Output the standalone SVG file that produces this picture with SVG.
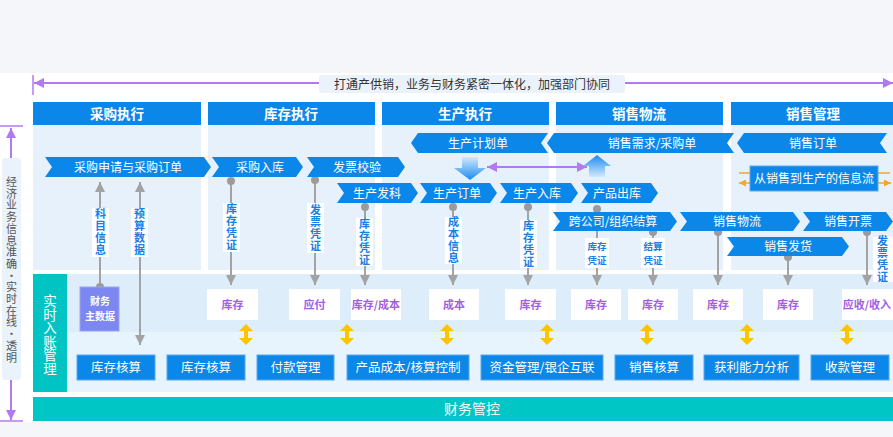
<svg xmlns="http://www.w3.org/2000/svg" xmlns:xlink="http://www.w3.org/1999/xlink" width="893" height="437" viewBox="0 0 893 437">
<defs>
<style>
text{font-family:"Noto Sans CJK SC","Noto Sans",sans-serif;}
.vt{writing-mode:vertical-rl;text-anchor:middle;}
.hdr{fill:#0b87ea;}
.hdrt{fill:#fff;font-size:13.5px;font-weight:bold;text-anchor:middle;}
.body{fill:#e7f1fc;}
.chev{fill:#0b87ea;}
.chevt{fill:#fff;font-size:12px;text-anchor:middle;}
.wbox{fill:#fff;}
.wt{fill:#a35ee6;font-size:11px;font-weight:bold;text-anchor:middle;}
.lbl{fill:#fff;}
.lt{fill:#1780e2;font-size:11px;font-weight:bold;letter-spacing:1px;}
.lt2{fill:#1780e2;font-size:9.5px;font-weight:bold;text-anchor:middle;}
.bbox{fill:#0b87ea;stroke:#5aa8ee;stroke-width:1;}
.bt{fill:#fff;font-size:12.5px;text-anchor:middle;}
.conn{stroke:#a3a3a3;stroke-width:2;fill:none;}
.dot{fill:#9b9b9b;}
.purp{stroke:#b27af0;stroke-width:2;fill:none;}
.orng{stroke:#f5a623;stroke-width:1.5;fill:none;}
</style>
<marker id="ga" viewBox="0 0 10 10" refX="10" refY="5" markerWidth="11" markerHeight="10" markerUnits="userSpaceOnUse" orient="auto-start-reverse"><path d="M0 0 L10 5 L0 10 Z" fill="#a3a3a3"/></marker>
<marker id="pa" viewBox="0 0 10 10" refX="10" refY="5" markerWidth="10" markerHeight="10" markerUnits="userSpaceOnUse" orient="auto-start-reverse"><path d="M0 0 L10 5 L0 10 Z" fill="#b27af0"/></marker>
<marker id="oa" viewBox="0 0 10 10" refX="10" refY="5" markerWidth="7" markerHeight="7" markerUnits="userSpaceOnUse" orient="auto-start-reverse"><path d="M0 0 L10 5 L0 10 Z" fill="#f5a623"/></marker>
<linearGradient id="gdown" x1="0" y1="0" x2="0" y2="1"><stop offset="0" stop-color="#d2e8fc"/><stop offset="1" stop-color="#1a8cf0"/></linearGradient>
<linearGradient id="gup" x1="0" y1="0" x2="0" y2="1"><stop offset="0" stop-color="#1a8cf0"/><stop offset="1" stop-color="#d2e8fc"/></linearGradient>
<path id="ydbl" d="M0 0 L7 7 L2 7 L2 14 L7 14 L0 21 L-7 14 L-2 14 L-2 7 L-7 7 Z" fill="#ffc300"/>
</defs>

<!-- backgrounds -->
<rect x="0" y="0" width="893" height="437" fill="#ffffff"/>
<rect x="0" y="0" width="893" height="73" fill="#f4f6fa"/>
<rect x="0" y="422" width="893" height="15" fill="#f4f6fa"/>

<!-- top banner -->
<g id="banner">
<line x1="33" y1="75" x2="33" y2="95" stroke="#b27af0" stroke-width="1.5"/>
<line x1="34" y1="83" x2="319" y2="83" class="purp" marker-start="url(#pa)"/>
<line x1="625" y1="83" x2="893" y2="83" class="purp" marker-end="url(#pa)"/>
<rect x="319" y="75" width="306" height="18" rx="3" fill="#eaf2fc"/>
<text x="472" y="88.5" font-size="12" fill="#333" text-anchor="middle">打通产供销，业务与财务紧密一体化，加强部门协同</text>
</g>

<!-- left side label -->
<g id="side-label">
<line x1="0" y1="126" x2="23" y2="126" stroke="#b27af0" stroke-width="1.5"/>
<line x1="11" y1="158" x2="11" y2="128" class="purp" marker-end="url(#pa)"/>
<line x1="11" y1="380" x2="11" y2="420" class="purp" marker-end="url(#pa)"/>
<line x1="0" y1="421" x2="23" y2="421" stroke="#b27af0" stroke-width="1.5"/>
<rect x="2" y="158" width="19" height="222" rx="3" fill="#eaf2fb"/>
<text class="vt" x="11.5" y="270" font-size="11" fill="#555" letter-spacing="0.7">经济业务信息准确・实时在线・透明</text>
</g>

<!-- column headers and bodies -->
<g id="col-purchase"><rect class="body" x="33" y="125" width="168" height="145"/><rect class="hdr" x="33" y="102" width="168" height="23"/><text class="hdrt" x="117" y="118.5">采购执行</text></g>
<g id="col-inventory"><rect class="body" x="208" y="125" width="167" height="145"/><rect class="hdr" x="208" y="102" width="167" height="23"/><text class="hdrt" x="291" y="118.5">库存执行</text></g>
<g id="col-production"><rect class="body" x="382" y="125" width="167" height="145"/><rect class="hdr" x="382" y="102" width="167" height="23"/><text class="hdrt" x="465" y="118.5">生产执行</text></g>
<g id="col-logistics"><rect class="body" x="556" y="125" width="167" height="145"/><rect class="hdr" x="556" y="102" width="167" height="23"/><text class="hdrt" x="639" y="118.5">销售物流</text></g>
<g id="col-sales"><rect class="body" x="731" y="125" width="162" height="145"/><rect class="hdr" x="731" y="102" width="162" height="23"/><text class="hdrt" x="813" y="118.5">销售管理</text></g>

<!-- lower panel -->
<g id="lower-panel">
<rect x="33" y="274" width="860" height="118" fill="#e8f4fd"/>
<rect x="67" y="274" width="826" height="58" fill="#ddedfa"/>
</g>
<g id="realtime">
<rect x="33" y="274" width="34" height="118" fill="#00c4c4"/>
<text class="vt" x="50" y="335" font-size="13.5" fill="#fff">实时入账管理</text>
</g>
<g id="finance-control">
<rect x="33" y="397" width="860" height="24" fill="#00c6c6"/>
<text x="472" y="414" font-size="14" fill="#fff" text-anchor="middle">财务管控</text>
</g>

<!-- connectors -->
<g id="connectors">
<line class="conn" x1="100" y1="287" x2="100" y2="182" marker-end="url(#ga)"/>
<line class="conn" x1="140" y1="182" x2="140" y2="345" marker-start="url(#ga)" marker-end="url(#ga)"/>
<line class="conn" x1="231" y1="181" x2="231" y2="285" marker-end="url(#ga)"/>
<line class="conn" x1="315" y1="180" x2="315" y2="285" marker-end="url(#ga)"/>
<line class="conn" x1="365" y1="207" x2="365" y2="285" marker-end="url(#ga)"/>
<line class="conn" x1="453" y1="207" x2="453" y2="285" marker-end="url(#ga)"/>
<line class="conn" x1="528" y1="207" x2="528" y2="285" marker-end="url(#ga)"/>
<line class="conn" x1="597" y1="209" x2="597" y2="285" marker-end="url(#ga)"/>
<line class="conn" x1="653" y1="232" x2="653" y2="285" marker-end="url(#ga)"/>
<line class="conn" x1="718" y1="232" x2="718" y2="285" marker-end="url(#ga)"/>
<line class="conn" x1="788" y1="257" x2="788" y2="285" marker-end="url(#ga)"/>
<line class="conn" x1="867" y1="232" x2="867" y2="285" marker-end="url(#ga)"/>
<circle class="dot" cx="100" cy="287" r="4"/>
<circle class="dot" cx="231" cy="181" r="4"/>
<circle class="dot" cx="315" cy="180" r="4"/>
<circle class="dot" cx="365" cy="207" r="4"/>
<circle class="dot" cx="453" cy="207" r="4"/>
<circle class="dot" cx="528" cy="207" r="4"/>
<circle class="dot" cx="597" cy="209" r="4"/>
<circle class="dot" cx="653" cy="232" r="4"/>
<circle class="dot" cx="718" cy="232" r="4"/>
<circle class="dot" cx="788" cy="257" r="4"/>
<circle class="dot" cx="867" cy="232" r="4"/>
<!-- labels -->
<rect class="lbl" x="92" y="208" width="17" height="49"/>
<text class="lt vt" x="100.5" y="232.5">科目信息</text>
<rect class="lbl" x="131" y="208" width="17" height="49"/>
<text class="lt vt" x="139.5" y="232.5">预算数据</text>
<rect class="lbl" x="223" y="203" width="17" height="49"/>
<text class="lt vt" x="231.5" y="227.5">库存凭证</text>
<rect class="lbl" x="307" y="203" width="17" height="50"/>
<text class="lt vt" x="315.5" y="228">发票凭证</text>
<rect class="lbl" x="356" y="218" width="17" height="48"/>
<text class="lt vt" x="364.5" y="242">库存凭证</text>
<rect class="lbl" x="445" y="217" width="17" height="47"/>
<text class="lt vt" x="453.5" y="240.5">成本信息</text>
<rect class="lbl" x="520" y="220" width="17" height="48"/>
<text class="lt vt" x="528.5" y="244">库存凭证</text>
<rect class="lbl" x="585" y="238" width="24" height="30"/>
<text class="lt2" x="597" y="250">库存</text>
<text class="lt2" x="597" y="264">凭证</text>
<rect class="lbl" x="641" y="238" width="24" height="30"/>
<text class="lt2" x="653" y="250">结算</text>
<text class="lt2" x="653" y="264">凭证</text>
<rect class="lbl" x="873" y="237" width="20" height="45"/>
<text class="lt vt" x="882.5" y="259.5" letter-spacing="0">发票凭证</text>
<!-- production / sales links -->
<line class="purp" x1="487" y1="167" x2="587" y2="167" marker-start="url(#pa)" marker-end="url(#pa)"/>
<line class="orng" x1="739" y1="173" x2="750" y2="173"/>
<line class="orng" x1="750" y1="183" x2="739" y2="183" marker-end="url(#oa)"/>
<line class="orng" x1="878" y1="173" x2="890" y2="173"/>
<line class="orng" x1="878" y1="183" x2="891" y2="183" marker-end="url(#oa)"/>
<path d="M462 157 L478 157 L478 168 L486 168 L470 180 L454 168 L462 168 Z" fill="url(#gdown)"/>
<path d="M597 155 L611 166 L605 166 L605 177 L589 177 L589 166 L583 166 Z" fill="url(#gup)"/>
<g>
<use href="#ydbl" x="246" y="324"/><use href="#ydbl" x="347" y="324"/><use href="#ydbl" x="447" y="324"/><use href="#ydbl" x="547" y="324"/><use href="#ydbl" x="647" y="324"/><use href="#ydbl" x="747" y="324"/><use href="#ydbl" x="847" y="324"/>
</g>
</g>

<!-- process chevrons -->
<g id="p-purchase-order"><path class="chev" d="M45 157 L204 157 L211 167 L204 177 L45 177 L52 167 Z"/><text class="chevt" x="128" y="171.5">采购申请与采购订单</text></g>
<g id="p-purchase-in"><path class="chev" d="M212 157 L296 157 L303 167 L296 177 L212 177 L219 167 Z"/><text class="chevt" x="260" y="171.5">采购入库</text></g>
<g id="p-invoice-check"><path class="chev" d="M307 157 L398 157 L405 167 L398 177 L307 177 L314 167 Z"/><text class="chevt" x="357" y="171.5">发票校验</text></g>

<g id="p-plan"><path class="chev" d="M411 143 L418 133 L548 133 L541 143 L548 153 L418 153 Z"/><text class="chevt" x="478" y="147.5">生产计划单</text></g>
<g id="p-demand"><path class="chev" d="M547 143 L554 133 L734 133 L727 143 L734 153 L554 153 Z"/><text class="chevt" x="652" y="147.5">销售需求/采购单</text></g>
<g id="p-sales-order"><path class="chev" d="M737 143 L744 133 L887 133 L880 143 L887 153 L744 153 Z"/><text class="chevt" x="813" y="147.5">销售订单</text></g>

<g id="p-issue"><path class="chev" d="M337 183 L411 183 L418 193 L411 203 L337 203 L344 193 Z"/><text class="chevt" x="377" y="197.5">生产发科</text></g>
<g id="p-prod-order"><path class="chev" d="M420 183 L490 183 L497 193 L490 203 L420 203 L427 193 Z"/><text class="chevt" x="457" y="197.5">生产订单</text></g>
<g id="p-prod-in"><path class="chev" d="M500 183 L571 183 L578 193 L571 203 L500 203 L507 193 Z"/><text class="chevt" x="537" y="197.5">生产入库</text></g>
<g id="p-prod-out"><path class="chev" d="M581 183 L651 183 L658 193 L651 203 L581 203 L588 193 Z"/><text class="chevt" x="617" y="197.5">产品出库</text></g>

<g id="p-settle"><path class="chev" d="M553 212 L670 212 L677 221.5 L670 231 L553 231 L560 221.5 Z"/><text class="chevt" x="613" y="226">跨公司/组织结算</text></g>
<g id="p-logistics"><path class="chev" d="M680 212 L793 212 L800 221.5 L793 231 L680 231 L687 221.5 Z"/><text class="chevt" x="737" y="226">销售物流</text></g>
<g id="p-billing"><path class="chev" d="M803 212 L886 212 L893 221.5 L886 231 L803 231 L810 221.5 Z"/><text class="chevt" x="848" y="226">销售开票</text></g>
<g id="p-delivery"><path class="chev" d="M727 237 L842 237 L849 246.5 L842 256 L727 256 L734 246.5 Z"/><text class="chevt" x="788" y="251">销售发货</text></g>

<g id="info-flow"><rect x="750" y="166" width="128" height="25" fill="#0b87ea" stroke="#5aa8ee"/><text x="814" y="182.5" font-size="12" fill="#fff" text-anchor="middle">从销售到生产的信息流</text></g>

<!-- finance master data -->
<g id="fin-master"><rect x="80" y="287" width="39" height="44" fill="#7c87f2" stroke="#9aa3f5"/><text x="100" y="305" font-size="10" font-weight="bold" fill="#fff" text-anchor="middle">财务</text><text x="100" y="320" font-size="10" font-weight="bold" fill="#fff" text-anchor="middle">主数据</text></g>

<!-- accounting result boxes -->
<g id="r1"><rect class="wbox" x="207" y="289" width="51" height="31"/><text class="wt" x="232.5" y="309">库存</text></g>
<g id="r2"><rect class="wbox" x="289" y="289" width="51" height="31"/><text class="wt" x="314.5" y="309">应付</text></g>
<g id="r3"><rect class="wbox" x="351" y="289" width="50" height="31"/><text class="wt" x="376" y="309">库存/成本</text></g>
<g id="r4"><rect class="wbox" x="429" y="289" width="50" height="31"/><text class="wt" x="454" y="309">成本</text></g>
<g id="r5"><rect class="wbox" x="505" y="289" width="51" height="31"/><text class="wt" x="530.5" y="309">库存</text></g>
<g id="r6"><rect class="wbox" x="571" y="289" width="50" height="31"/><text class="wt" x="596" y="309">库存</text></g>
<g id="r7"><rect class="wbox" x="628" y="289" width="50" height="31"/><text class="wt" x="653" y="309">库存</text></g>
<g id="r8"><rect class="wbox" x="693" y="289" width="50" height="31"/><text class="wt" x="718" y="309">库存</text></g>
<g id="r9"><rect class="wbox" x="763" y="289" width="50" height="31"/><text class="wt" x="788" y="309">库存</text></g>
<g id="r10"><rect class="wbox" x="842" y="289" width="51" height="31"/><text class="wt" x="867" y="309">应收/收入</text></g>

<!-- management boxes -->
<g id="m1"><rect class="bbox" x="77" y="355" width="78" height="25"/><text class="bt" x="116" y="372">库存核算</text></g>
<g id="m2"><rect class="bbox" x="167" y="355" width="78" height="25"/><text class="bt" x="206" y="372">库存核算</text></g>
<g id="m3"><rect class="bbox" x="257" y="355" width="77" height="25"/><text class="bt" x="295.5" y="372">付款管理</text></g>
<g id="m4"><rect class="bbox" x="347" y="355" width="122" height="25"/><text class="bt" x="408" y="372">产品成本/核算控制</text></g>
<g id="m5"><rect class="bbox" x="481" y="355" width="122" height="25"/><text class="bt" x="542" y="372">资金管理/银企互联</text></g>
<g id="m6"><rect class="bbox" x="615" y="355" width="78" height="25"/><text class="bt" x="654" y="372">销售核算</text></g>
<g id="m7"><rect class="bbox" x="704" y="355" width="95" height="25"/><text class="bt" x="751.5" y="372">获利能力分析</text></g>
<g id="m8"><rect class="bbox" x="811" y="355" width="78" height="25"/><text class="bt" x="850" y="372">收款管理</text></g>
</svg>
